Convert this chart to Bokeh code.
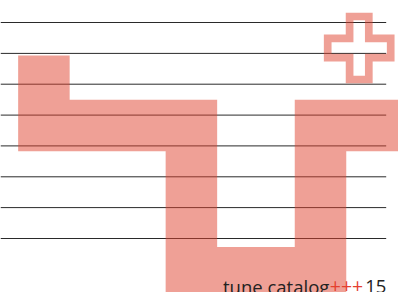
from bokeh.plotting import figure
from bokeh.models import Range1d
from bokeh.embed import file_html
from bokeh.resources import INLINE
from bokeh.core.properties import value

# ---- data ----
rule_levels = [22.0, 52.9, 83.7, 114.6, 145.4, 176.3, 207.1, 238.0]
rule_start = 0.0
rule_end = 385.7

path_x = [43.4, 43.4, 190.9, 190.9, 320.0, 320.0, 440.0]
path_y = [55.0, 124.9, 124.9, 272.2, 272.2, 124.9, 124.9]

badge_x = 358.7
badge_y = 47.5

caption_words = "tune catalog"
caption_marks = "+++"
caption_number = "15"

# ---- style ----
W, H = 398, 292
base = "#DF412D"
rule_color = "#2a2a2a"
arm_len, arm_half = 31.5, 9.6

p = figure(width=W, height=H, output_backend="svg", toolbar_location=None,
           x_range=Range1d(0, W), y_range=Range1d(H, 0),
           min_border=0, min_border_left=0, min_border_right=0,
           min_border_top=0, min_border_bottom=0)
p.axis.visible = False
p.grid.visible = False
p.outline_line_color = None
p.background_fill_color = "white"
p.border_fill_color = "white"

p.multi_line(xs=[[rule_start, rule_end] for _ in rule_levels],
             ys=[[y, y] for y in rule_levels],
             line_color=rule_color, line_width=1)

p.line(path_x, path_y, line_color=base, line_alpha=0.5, line_width=51.5,
       line_join="miter", line_cap="butt")

L, w = arm_len, arm_half
dx = [w, w, L, L, w, w, -w, -w, -L, -L, -w, -w]
dy = [-L, -w, -w, w, w, L, L, w, w, -w, -w, -L]
p.patch([badge_x + a for a in dx], [badge_y + b for b in dy],
        fill_color=None, line_color=base, line_alpha=0.5, line_width=7.7,
        line_join="miter")

font = value("Open Sans")
fs = "18.5px"
ty = 285.7
p.text(x=[385.8], y=[ty], text=[caption_number], text_font=font,
       text_font_size=fs, text_color="#222222", text_align="right",
       text_baseline="alphabetic")
p.text(x=[346.0], y=[ty], text=[caption_marks], text_font=font,
       text_font_size="19.5px", text_color="#E5402F", text_align="center",
       text_baseline="alphabetic")
p.text(x=[328.8], y=[ty], text=[caption_words], text_font=font,
       text_font_size=fs, text_color="#222222", text_align="right",
       text_baseline="alphabetic")

html = file_html(p, INLINE)
html = html.replace("<body>", '<body style="margin:0;overflow:hidden">', 1)
open("out.html", "w").write(html)
